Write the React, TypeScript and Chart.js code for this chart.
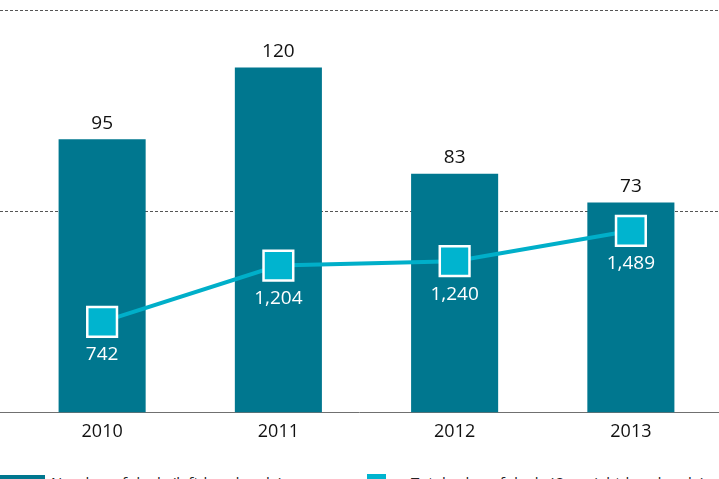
import React, { useEffect, useRef } from "react";
import { Chart, registerables } from "chart.js";

Chart.register(...registerables);

const categories: string[] = ["2010", "2011", "2012", "2013"];
const dealCounts: number[] = [95, 120, 83, 73];
const dealValues: number[] = [742, 1204, 1240, 1489];
const legendLabels: string[] = [
  "Number of deals (left-hand scale)",
  "Total value of deals (€ m, right-hand scale)",
];

const BAR_COLOR = "#00778f";
const LINE_COLOR = "#00afc9";
const POINT_COLOR = "#00b4cf";
const FONT = "'Open Sans', sans-serif";

const fullGridPlugin = {
  id: "fullGrid",
  beforeDatasetsDraw(chart: any) {
    const { ctx, width } = chart;
    const y = chart.scales.y;
    ctx.save();
    y.ticks.forEach((t: any) => {
      const py = Math.round(y.getPixelForValue(t.value)) + 0.5;
      ctx.beginPath();
      if (t.value === 0) {
        ctx.setLineDash([]);
        ctx.strokeStyle = "#707070";
      } else {
        ctx.setLineDash([3, 2]);
        ctx.strokeStyle = "#555";
      }
      ctx.lineWidth = 1;
      ctx.moveTo(0, py);
      ctx.lineTo(width, py);
      ctx.stroke();
    });
    ctx.restore();
  },
};

const valueLabelPlugin = {
  id: "valueLabels",
  afterDatasetsDraw(chart: any) {
    const { ctx } = chart;
    ctx.save();
    ctx.font = `19px ${FONT}`;
    ctx.textAlign = "center";
    ctx.textBaseline = "middle";
    const barMeta = chart.getDatasetMeta(1);
    barMeta.data.forEach((el: any, i: number) => {
      ctx.fillStyle = "#111";
      ctx.fillText(String(dealCounts[i]), el.x, el.y - 16);
    });
    const lineMeta = chart.getDatasetMeta(0);
    lineMeta.data.forEach((el: any, i: number) => {
      ctx.fillStyle = "#ffffff";
      ctx.fillText(dealValues[i].toLocaleString("en-US"), el.x, el.y + 33);
    });
    ctx.restore();
  },
};

export default function App() {
  const ref = useRef<HTMLCanvasElement | null>(null);

  useEffect(() => {
    if (!ref.current) return;
    const chart = new Chart(ref.current, {
      type: "bar",
      data: {
        labels: categories,
        datasets: [
          {
            type: "line",
            label: legendLabels[1],
            data: dealValues,
            yAxisID: "y1",
            borderColor: LINE_COLOR,
            borderWidth: 4,
            backgroundColor: POINT_COLOR,
            pointStyle: "rect",
            pointRadius: 21,
            pointHoverRadius: 21,
            pointBackgroundColor: POINT_COLOR,
            pointBorderColor: "#ffffff",
            pointBorderWidth: 2.5,
            tension: 0,
            order: 0,
            clip: false,
          } as any,
          {
            type: "bar",
            label: legendLabels[0],
            data: dealCounts,
            yAxisID: "y",
            backgroundColor: BAR_COLOR,
            categoryPercentage: 1,
            barPercentage: 0.494,
            order: 1,
          },
        ],
      },
      options: {
        animation: false,
        responsive: false,
        maintainAspectRatio: false,
        layout: { autoPadding: false, padding: { left: 14, right: 0, top: 10, bottom: 4 } },
        plugins: {
          legend: { display: false },
          tooltip: { enabled: false },
        },
        scales: {
          x: {
            grid: { display: false, drawTicks: false },
            border: { display: false },
            ticks: {
              color: "#111",
              font: { family: FONT, size: 18 },
              padding: 9,
            },
          },
          y: {
            display: false,
            min: 0,
            max: 140,
            ticks: { stepSize: 70 },
            grid: { display: false },
          },
          y1: {
            display: false,
            position: "right",
            min: 0,
            max: 3300,
            ticks: { stepSize: 1650 },
            grid: { display: false },
          },
        },
      },
      plugins: [fullGridPlugin, valueLabelPlugin],
    });
    return () => chart.destroy();
  }, []);

  return (
    <div style={{ position: "absolute", left: 0, top: 0, width: 719, height: 479, overflow: "hidden", fontFamily: FONT }}>
      <canvas ref={ref} width={719} height={456} style={{ position: "absolute", left: 0, top: 0, width: 719, height: 456 }} />
      <div style={{ position: "absolute", left: 0, top: 475, width: 45, height: 14, background: BAR_COLOR }} />
      <div style={{ position: "absolute", left: 51, top: 472, fontSize: 15, lineHeight: "20px", color: "#222", whiteSpace: "nowrap" }}>
        {legendLabels[0]}
      </div>
      <div style={{ position: "absolute", left: 352, top: 481, width: 48, height: 4, background: LINE_COLOR }} />
      <div style={{ position: "absolute", left: 367, top: 474, width: 19, height: 18, background: POINT_COLOR }} />
      <div style={{ position: "absolute", left: 411, top: 472, fontSize: 15, lineHeight: "20px", color: "#222", whiteSpace: "nowrap" }}>
        {legendLabels[1]}
      </div>
    </div>
  );
}
